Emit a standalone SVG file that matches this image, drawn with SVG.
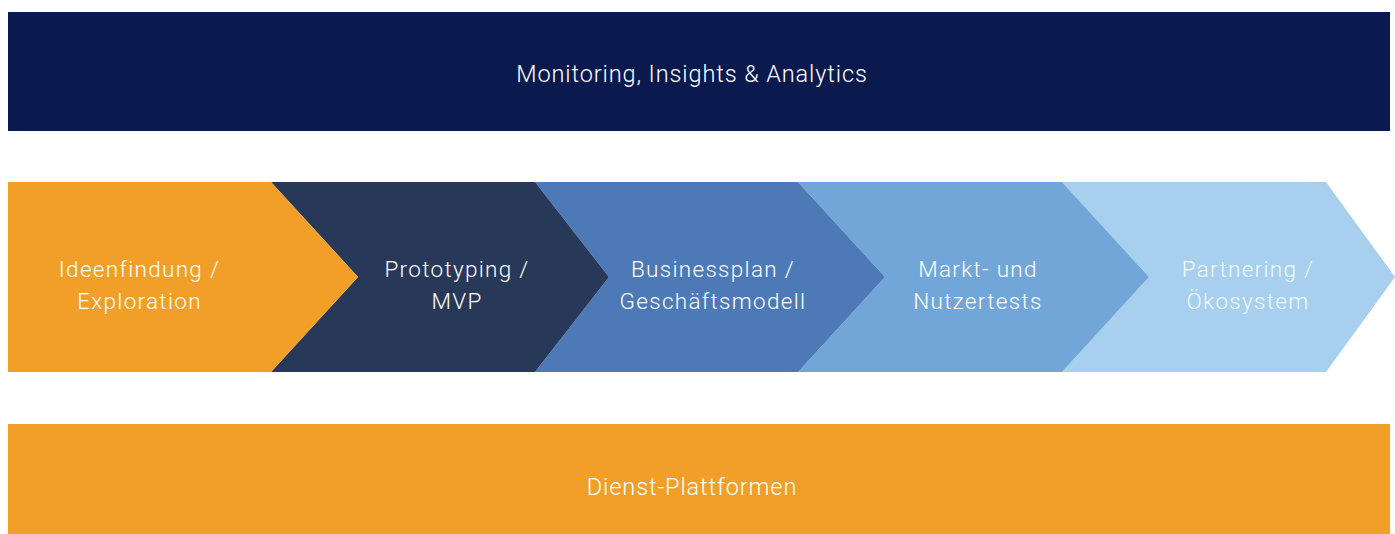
<svg xmlns="http://www.w3.org/2000/svg" width="1395" height="534" viewBox="0 0 1395 534">
<style>
  .lbl { font-family: Roboto, "Liberation Sans", sans-serif; font-weight: 300; fill: #ffffff; text-anchor: middle; }
  .bar { font-size: 23.5px; letter-spacing: 0.9px; }
  .chev { font-size: 22.5px; letter-spacing: 1.3px; }
</style>
<rect width="1395" height="534" fill="#ffffff"/>
<g id="monitoring">
  <rect x="8" y="12" width="1382" height="119" fill="#0a1a4f"/>
  <text class="lbl bar" x="692" y="82">Monitoring, Insights &amp; Analytics</text>
</g>
<g id="step5">
  <polygon points="1062,182 1326,182 1395,277 1326,372 1062,372 1149,277" fill="#a6d0ee"/>
  <text class="lbl chev" x="1248" y="277" style="fill:#f4f9fd">Partnering /</text>
  <text class="lbl chev" x="1248" y="309" style="fill:#f4f9fd">Ökosystem</text>
</g>
<g id="step4">
  <polygon points="798,182 1062,182 1149,277 1062,372 798,372 885,277" fill="#72a6d8"/>
  <text class="lbl chev" x="978" y="277">Markt- und</text>
  <text class="lbl chev" x="978" y="309">Nutzertests</text>
</g>
<g id="step3">
  <polygon points="535,182 798,182 885,277 798,372 535,372 609,277" fill="#4d79b7"/>
  <text class="lbl chev" x="713" y="277">Businessplan /</text>
  <text class="lbl chev" x="713" y="309">Geschäftsmodell</text>
</g>
<g id="step2">
  <polygon points="271,182 535,182 609,277 535,372 271,372 358,277" fill="#283858"/>
  <text class="lbl chev" x="457" y="277">Prototyping /</text>
  <text class="lbl chev" x="457" y="309">MVP</text>
</g>
<g id="step1">
  <polygon points="8,182 271,182 358,277 271,372 8,372" fill="#f29f29"/>
  <text class="lbl chev" x="139.5" y="277">Ideenfindung /</text>
  <text class="lbl chev" x="139.5" y="309">Exploration</text>
</g>
<g id="platforms">
  <rect x="8" y="424" width="1382" height="110" fill="#f29f29"/>
  <text class="lbl bar" x="692" y="495">Dienst-Plattformen</text>
</g>
<g id="connectors"></g>
</svg>
